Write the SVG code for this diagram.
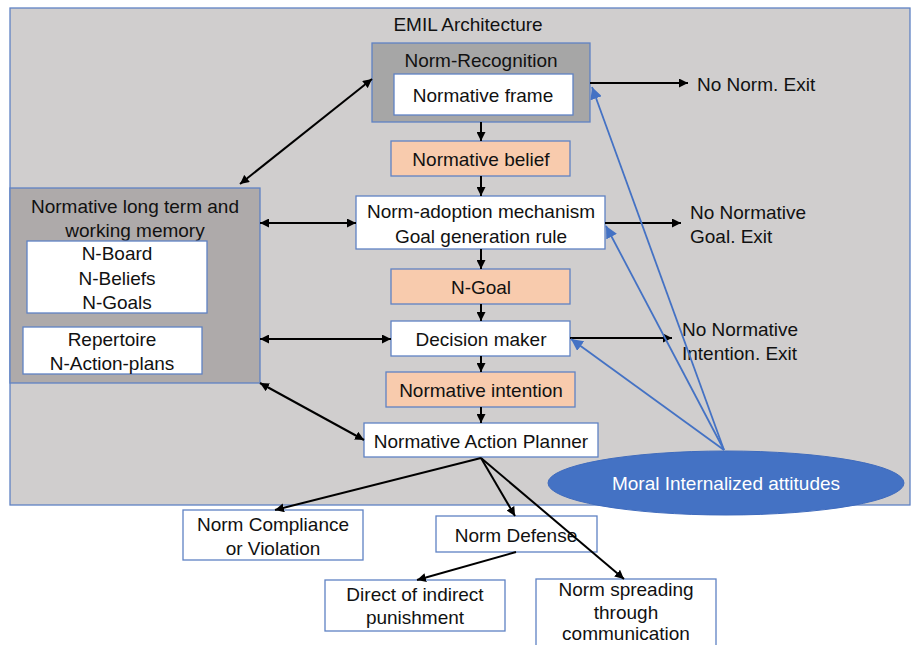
<svg xmlns="http://www.w3.org/2000/svg" width="911" height="645" viewBox="0 0 911 645">
  <style>
    text { font-family: "Liberation Sans", Arial, sans-serif; font-size: 19px; fill: #111; text-anchor: middle; }
    .box { stroke: #5f82c4; stroke-width: 1.3; }
    .white { fill: #ffffff; }
    .peach { fill: #f8cbad; }
    .dark { fill: #a6a6a6; }
    .mem { fill: #aeaaaa; }
    .flow { stroke: #000; stroke-width: 2; fill: none; }
    .moral { stroke: #4472c4; stroke-width: 1.8; fill: none; marker-end: url(#blueHead); }
    .left { text-anchor: start; }
  </style>
  <defs>
    <marker id="head" viewBox="0 0 10 10" refX="10" refY="5" markerWidth="9" markerHeight="9" markerUnits="userSpaceOnUse" orient="auto-start-reverse">
      <path d="M0,0 L10,5 L0,10 z" fill="#000"/>
    </marker>
    <marker id="blueHead" viewBox="0 0 10 10" refX="10" refY="5" markerWidth="12" markerHeight="12" markerUnits="userSpaceOnUse" orient="auto">
      <path d="M0,0 L10,5 L0,10 z" fill="#4472c4"/>
    </marker>
  </defs>

  <!-- architecture frame -->
  <g id="frame">
    <rect x="10" y="8" width="900" height="497" fill="#d0cece" class="box"/>
    <text x="468" y="31">EMIL Architecture</text>
  </g>

  <g id="norm-recognition">
    <rect x="372" y="43" width="218" height="79" class="box dark"/>
    <text x="481" y="67">Norm-Recognition</text>
    <rect x="394" y="74" width="179" height="41" class="box white"/>
    <text x="483" y="102">Normative frame</text>
  </g>

  <g id="normative-belief">
    <rect x="391" y="141" width="179" height="35" class="box peach"/>
    <text x="481" y="166">Normative belief</text>
  </g>

  <g id="norm-adoption">
    <rect x="356" y="196" width="249" height="53" class="box white"/>
    <text x="481" y="218">Norm-adoption mechanism</text>
    <text x="481" y="243">Goal generation rule</text>
  </g>

  <g id="n-goal">
    <rect x="391" y="269" width="179" height="35" class="box peach"/>
    <text x="481" y="294">N-Goal</text>
  </g>

  <g id="decision-maker">
    <rect x="391" y="321" width="179" height="35" class="box white"/>
    <text x="481" y="346">Decision maker</text>
  </g>

  <g id="normative-intention">
    <rect x="386" y="372" width="189" height="35" class="box peach"/>
    <text x="481" y="397">Normative intention</text>
  </g>

  <g id="action-planner">
    <rect x="364" y="423" width="234" height="34" class="box white"/>
    <text x="481" y="448">Normative Action Planner</text>
  </g>

  <g id="memory">
    <rect x="10" y="188" width="250" height="195" class="box mem"/>
    <text x="135" y="213">Normative long term and</text>
    <text x="135" y="237">working memory</text>
    <rect x="27" y="241" width="180" height="72" class="box white"/>
    <text x="117" y="260">N-Board</text>
    <text x="117" y="285">N-Beliefs</text>
    <text x="117" y="309">N-Goals</text>
    <rect x="23" y="327" width="179" height="47" class="box white"/>
    <text x="112" y="346">Repertoire</text>
    <text x="112" y="370">N-Action-plans</text>
  </g>

  <g id="exits">
    <text class="left" x="697" y="91">No Norm. Exit</text>
    <text class="left" x="690" y="219">No Normative</text>
    <text class="left" x="690" y="243">Goal. Exit</text>
    <text class="left" x="682" y="336">No Normative</text>
    <text class="left" x="682" y="360">Intention. Exit</text>
  </g>

  <g id="moral-attitudes">
    <ellipse cx="726" cy="483" rx="178" ry="32" fill="#4472c4" stroke="#3f6bbd" stroke-width="1"/>
    <text x="726" y="490" style="fill:#ffffff">Moral Internalized attitudes</text>
  </g>

  <g id="norm-compliance">
    <rect x="183" y="510" width="180" height="50" class="box white"/>
    <text x="273" y="531">Norm Compliance</text>
    <text x="273" y="555">or Violation</text>
  </g>

  <g id="norm-defense">
    <rect x="436" y="516" width="161" height="36" class="box white"/>
    <text x="516" y="542">Norm Defense</text>
  </g>

  <g id="punishment">
    <rect x="325" y="580" width="180" height="51" class="box white"/>
    <text x="415" y="601">Direct of indirect</text>
    <text x="415" y="624">punishment</text>
  </g>

  <g id="norm-spreading">
    <rect x="536" y="579" width="180" height="72" class="box white"/>
    <text x="626" y="596">Norm spreading</text>
    <text x="626" y="619">through</text>
    <text x="626" y="640">communication</text>
  </g>

  <!-- connectors -->
  <g id="connectors">
    <!-- main vertical flow -->
    <line class="flow" x1="481" y1="122" x2="481" y2="141" marker-end="url(#head)"/>
    <line class="flow" x1="481" y1="176" x2="481" y2="196" marker-end="url(#head)"/>
    <line class="flow" x1="481" y1="249" x2="481" y2="269" marker-end="url(#head)"/>
    <line class="flow" x1="481" y1="304" x2="481" y2="321" marker-end="url(#head)"/>
    <line class="flow" x1="481" y1="356" x2="481" y2="372" marker-end="url(#head)"/>
    <line class="flow" x1="481" y1="407" x2="481" y2="423" marker-end="url(#head)"/>

    <!-- exits -->
    <line class="flow" x1="590" y1="83" x2="688" y2="83" marker-end="url(#head)"/>
    <line class="flow" x1="605" y1="223" x2="681" y2="223" marker-end="url(#head)"/>
    <line class="flow" x1="570" y1="338" x2="672" y2="338" marker-end="url(#head)"/>

    <!-- memory links -->
    <line class="flow" x1="240" y1="184" x2="372" y2="79" marker-start="url(#head)" marker-end="url(#head)"/>
    <line class="flow" x1="260" y1="223" x2="356" y2="223" marker-start="url(#head)" marker-end="url(#head)"/>
    <line class="flow" x1="260" y1="339" x2="391" y2="339" marker-start="url(#head)" marker-end="url(#head)"/>
    <line class="flow" x1="260" y1="383" x2="364" y2="440" marker-start="url(#head)" marker-end="url(#head)"/>

    <!-- outcomes -->
    <line class="flow" x1="481" y1="458" x2="275" y2="510" marker-end="url(#head)"/>
    <line class="flow" x1="481" y1="458" x2="515" y2="516" marker-end="url(#head)"/>
    <line class="flow" x1="481" y1="458" x2="624" y2="579" marker-end="url(#head)"/>
    <line class="flow" x1="516" y1="552" x2="417" y2="580" marker-end="url(#head)"/>

    <!-- moral attitudes influence -->
    <line class="moral" x1="724" y1="450" x2="592" y2="87"/>
    <line class="moral" x1="724" y1="450" x2="606" y2="226"/>
    <line class="moral" x1="724" y1="450" x2="571" y2="339"/>
  </g>
</svg>
